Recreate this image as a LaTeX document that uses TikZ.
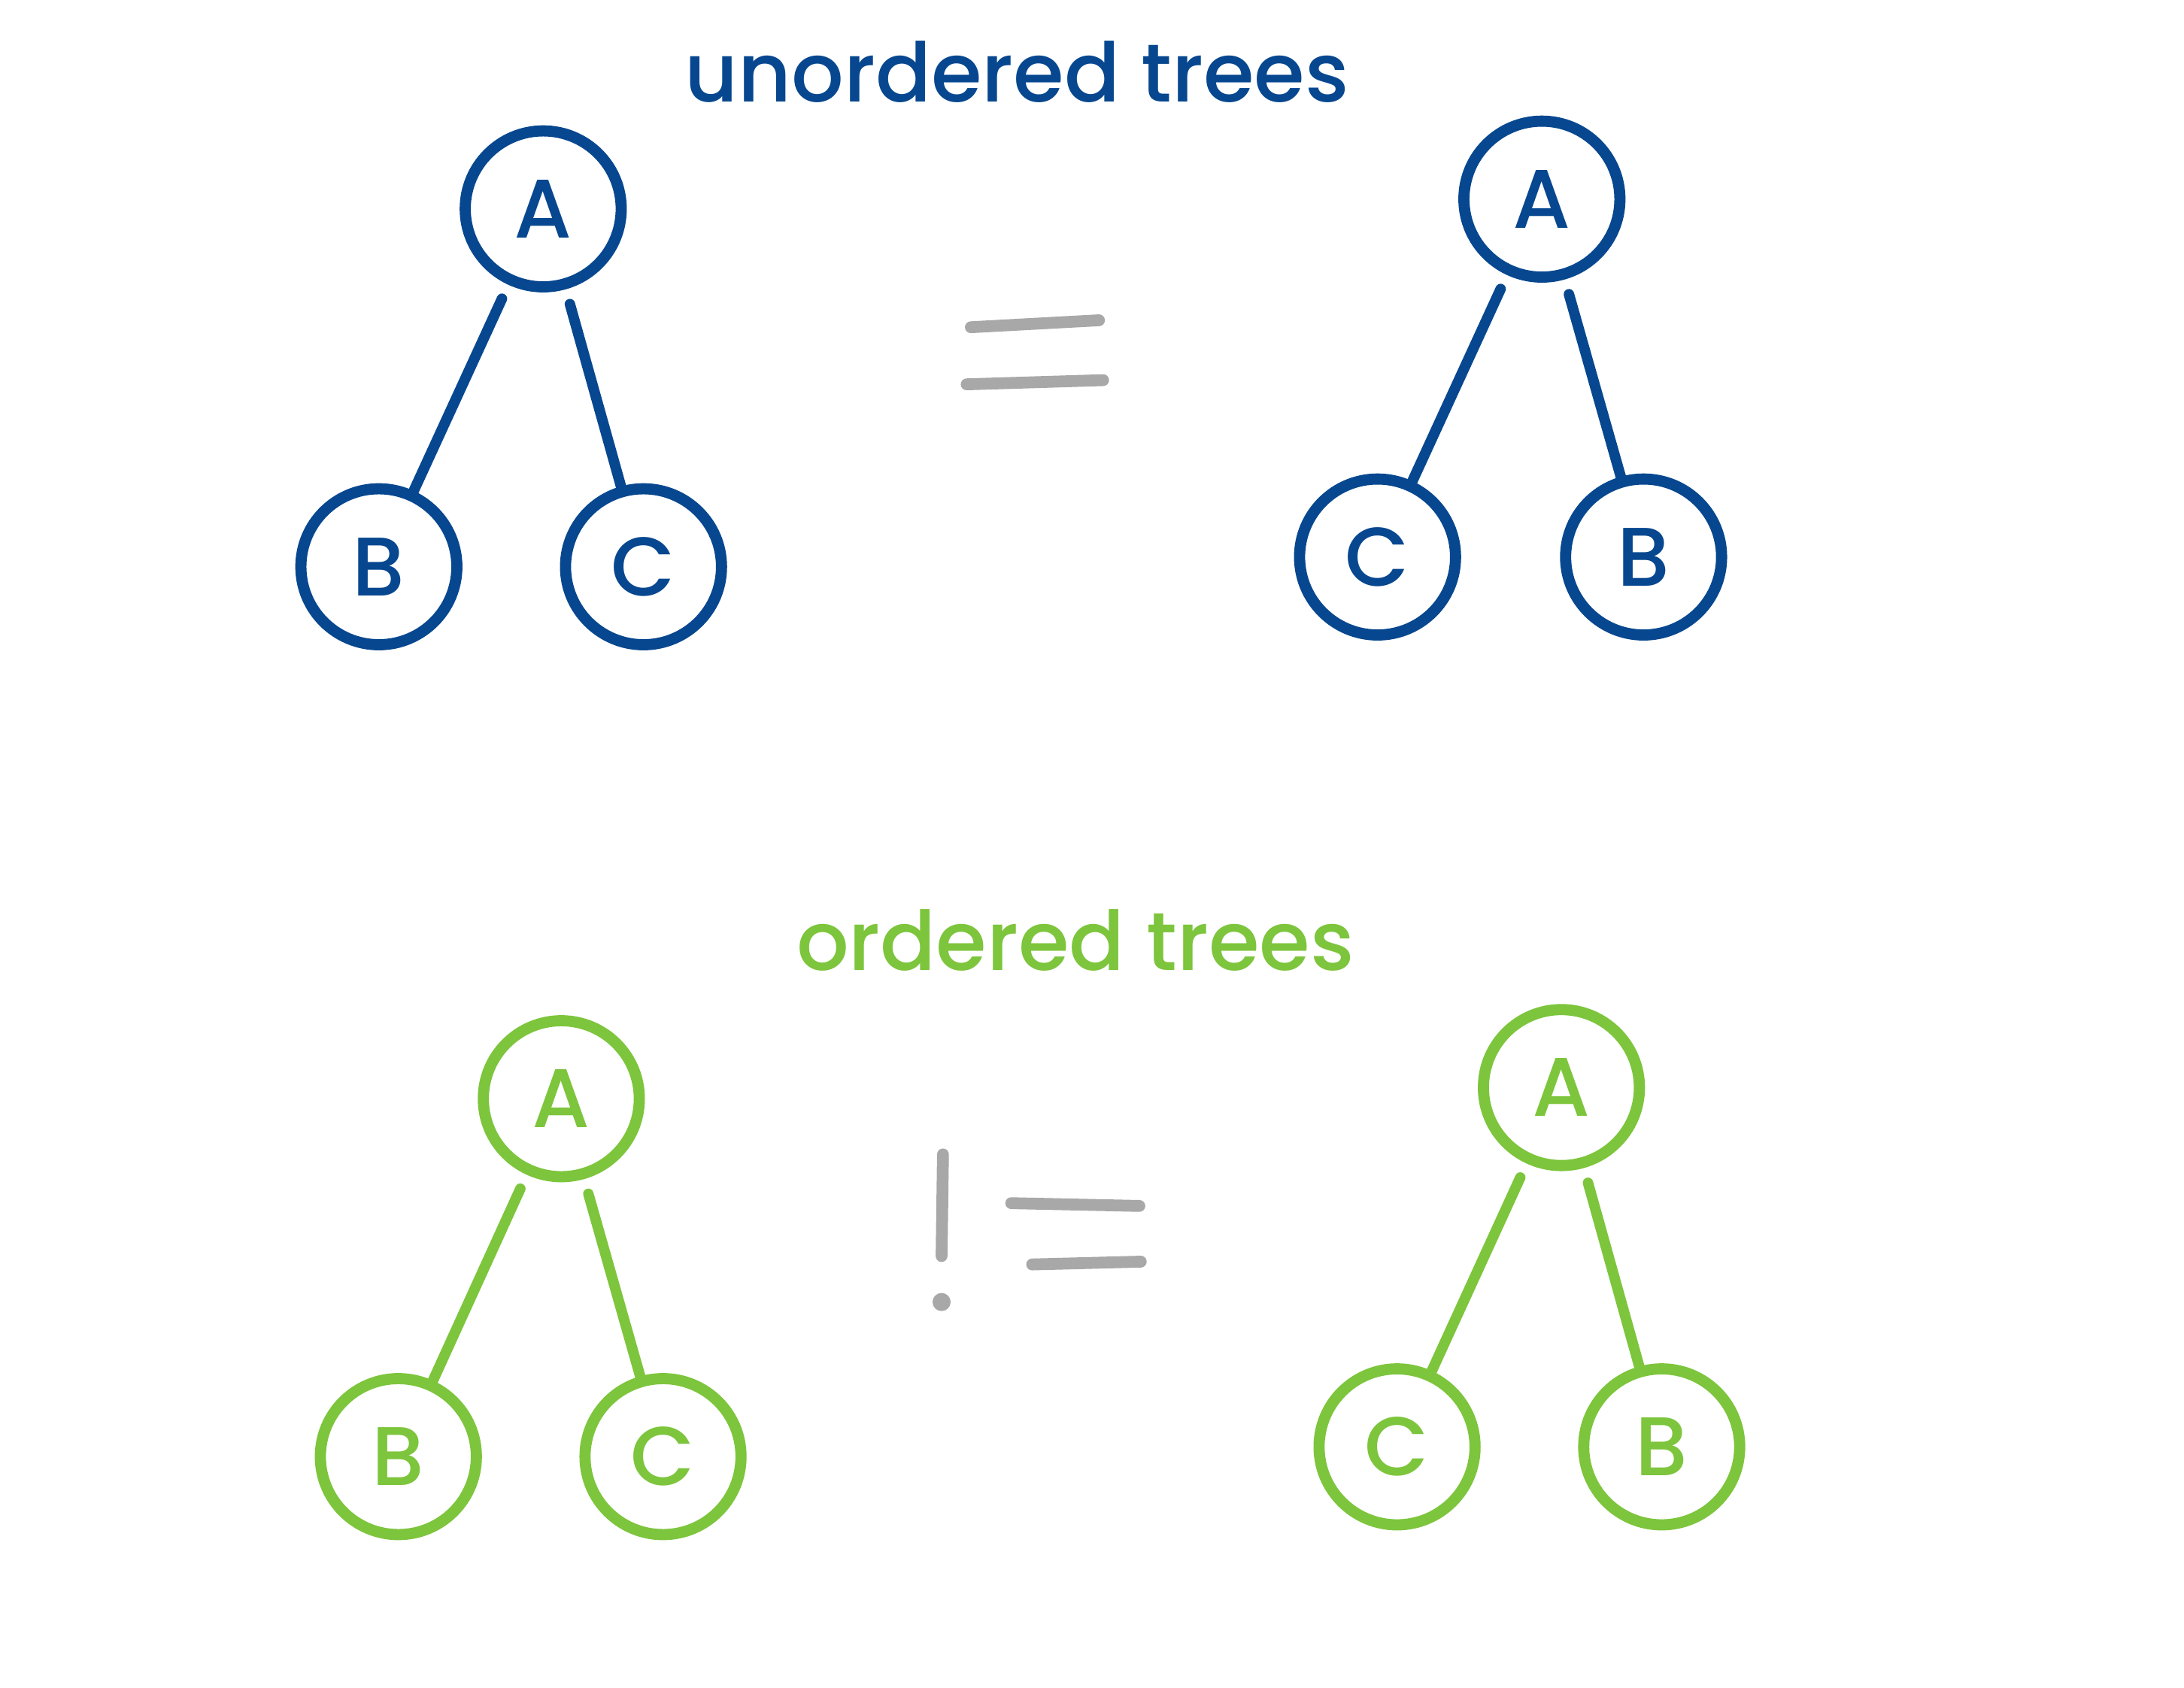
\documentclass[tikz,border=0pt]{standalone}
\usepackage{fontspec}
\setmainfont{Poppins}[BoldFont={Poppins Medium}]
\usepackage{tikz}
\usetikzlibrary{positioning}

\definecolor{treeblue}{HTML}{07478F}
\definecolor{treegreen}{HTML}{7DC53C}
\definecolor{signgray}{HTML}{A8A8A8}

\begin{document}
\begin{tikzpicture}[
		on grid, % place nodes center to center
		node distance = 2.57cm and 1.18cm,
		font = \fontsize{17}{20}\selectfont\bfseries,
		line cap = round
		]
		
		\tikzstyle{vertex}=[
		circle,
		draw,
		line width = 0.08cm,
		fill = white,
		inner sep = 0pt,
		minimum size = 1.12cm
		]
		\tikzstyle{blue vertex}=[vertex, draw = treeblue, text = treeblue]
		\tikzstyle{green vertex}=[vertex, draw = treegreen, text = treegreen]
		\tikzstyle{title}=[anchor = base, font = \fontsize{16.8}{20}\selectfont\bfseries]
		\tikzstyle{branch}=[
		line width = 0.075cm,
		shorten < = 0.11cm % gap under the parent
		]
		\tikzstyle{sign}=[
		draw = signgray,
		line width = 0.085cm
		]
		
		\useasboundingbox (0,0) rectangle (15.68,12.12);
		
		% titles
		\node[title, text=treeblue] (title_u) at (7.30,11.39) {unordered trees};
		\node[title, text=treegreen] (title_o) at (7.72,5.15) {ordered trees};
		
		% unordered, left
		\node[blue vertex] (u1_A) at (3.90,10.62) {A};
		\node[blue vertex] (u1_B) [below left=2.57cm and 1.18cm of u1_A] {B};
		\node[blue vertex] (u1_C) [below right=2.57cm and 0.72cm of u1_A] {C};
		
		% unordered, right
		\node[blue vertex] (u2_A) at (11.07,10.69) {A};
		\node[blue vertex] (u2_C) [below left=2.57cm and 1.18cm of u2_A] {C};
		\node[blue vertex] (u2_B) [below right=2.57cm and 0.73cm of u2_A] {B};
		
		% ordered, left
		\node[green vertex] (o1_A) at (4.03,4.23) {A};
		\node[green vertex] (o1_B) [below left=2.57cm and 1.17cm of o1_A] {B};
		\node[green vertex] (o1_C) [below right=2.57cm and 0.73cm of o1_A] {C};
		
		% ordered, right
		\node[green vertex] (o2_A) at (11.21,4.31) {A};
		\node[green vertex] (o2_C) [below left=2.58cm and 1.18cm of o2_A] {C};
		\node[green vertex] (o2_B) [below right=2.58cm and 0.72cm of o2_A] {B};
		
		\draw[branch, treeblue] (u1_A) -- (u1_B);
		\draw[branch, treeblue] (u1_A) -- (u1_C);
		\draw[branch, treeblue] (u2_A) -- (u2_C);
		\draw[branch, treeblue] (u2_A) -- (u2_B);
		\draw[branch, treegreen] (o1_A) -- (o1_B);
		\draw[branch, treegreen] (o1_A) -- (o1_C);
		\draw[branch, treegreen] (o2_A) -- (o2_C);
		\draw[branch, treegreen] (o2_A) -- (o2_B);
		
		% hand drawn =
		\path[sign] (6.97,9.77) -- (7.89,9.82);
		\path[sign] (6.94,9.36) -- (7.92,9.39);
		
		% hand drawn !=
		\path[sign] (6.77,3.83) -- (6.76,3.10);
		\fill[signgray] (6.76,2.77) circle (0.065);
		\path[sign] (7.26,3.48) -- (8.18,3.46);
		\path[sign] (7.41,3.04) -- (8.19,3.06);
		\end{tikzpicture}
\end{document}
